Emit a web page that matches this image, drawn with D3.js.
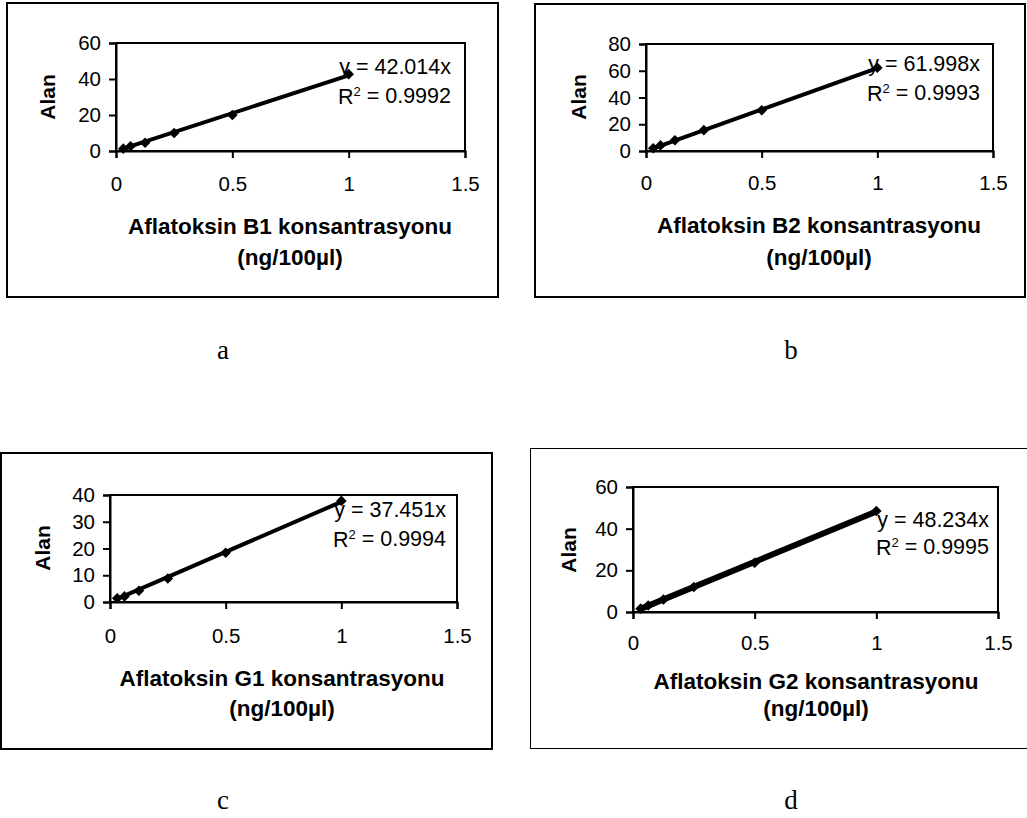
<!DOCTYPE html>
<html>
<head>
<meta charset="utf-8">
<script src="https://cdn.jsdelivr.net/npm/d3@7"></script>
<style>
  html, body { margin: 0; padding: 0; background: #fff; }
  svg { display: block; }
  text { font-family: "Liberation Sans", Arial, sans-serif; fill: #000; }
</style>
</head>
<body>
<svg id="chart" width="1027" height="818"></svg>
<script>
// Concentration levels (ng/100µl), shared by every standard curve
const concentrations = [0.03125, 0.0625, 0.125, 0.25, 0.5, 1];

// Peak areas measured for each aflatoxin
const areaB1 = [1.3, 2.6, 4.6, 10.0, 20.0, 42.7];
const areaB2 = [2.0, 4.2, 8.0, 15.6, 30.5, 62.2];
const areaG1 = [1.4, 2.1, 4.2, 8.8, 18.4, 37.8];
const areaG2 = [1.6, 3.1, 6.0, 12.0, 23.6, 48.5];

// Fitted slopes (trend line forced through the origin) and R² values
const slopes = [42.014, 61.998, 37.451, 48.234];
const rSquared = ["0.9992", "0.9993", "0.9994", "0.9995"];

// Axis settings
const xTicks = [0, 0.5, 1, 1.5];
const yMaxima = [60, 80, 40, 60];
const yTickSteps = [20, 20, 10, 20];
const toxinNames = ["B1", "B2", "G1", "G2"];
const panelLetters = ["a", "b", "c", "d"];

const svg = d3.select("#chart");

const layouts = [
  { box: [7, 3, 498, 297], boxW: 2, plot: [116, 43, 465, 151], tickLblY: 184,
    title1: 226, title2: 257, titleX: 290, alanX: 48, alanY: 97,
    eqRight: 451, eq1: 66, eq2: 96, lineW: 4, letter: [223, 350] },
  { box: [535, 4, 1025, 297], boxW: 2, plot: [646, 44, 993, 151], tickLblY: 183,
    title1: 225, title2: 257, titleX: 819, alanX: 579, alanY: 97,
    eqRight: 980, eq1: 63, eq2: 93, lineW: 4, letter: [791, 350] },
  { box: [1, 453, 492, 749], boxW: 2, plot: [110, 495, 457, 602], tickLblY: 636,
    title1: 678, title2: 708, titleX: 282, alanX: 43, alanY: 548,
    eqRight: 446, eq1: 509, eq2: 539, lineW: 4, letter: [223, 800] },
  { box: [530.5, 448.5, 1030, 748.5], boxW: 1, plot: [633, 487, 998, 612], tickLblY: 643,
    title1: 681, title2: 708, titleX: 816, alanX: 569, alanY: 550,
    eqRight: 989, eq1: 519, eq2: 547, lineW: 6, letter: [791, 800] }
];

const areas = [areaB1, areaB2, areaG1, areaG2];
const sans = "Liberation Sans, Arial, sans-serif";

layouts.forEach((L, i) => {
  const g = svg.append("g");
  const [bx0, by0, bx1, by1] = L.box;
  g.append("rect")
    .attr("x", bx0).attr("y", by0)
    .attr("width", bx1 - bx0).attr("height", by1 - by0)
    .attr("fill", "none").attr("stroke", "#000").attr("stroke-width", L.boxW);

  const [px0, py0, px1, py1] = L.plot;
  const x = d3.scaleLinear().domain([0, 1.5]).range([px0, px1]);
  const y = d3.scaleLinear().domain([0, yMaxima[i]]).range([py1, py0]);
  const yTicks = d3.range(0, yMaxima[i] + 0.001, yTickSteps[i]);

  // plot area frame
  g.append("rect")
    .attr("x", px0).attr("y", py0)
    .attr("width", px1 - px0).attr("height", py1 - py0)
    .attr("fill", "none").attr("stroke", "#000").attr("stroke-width", 2);

  // y axis
  const ya = g.append("g").attr("transform", `translate(${px0},0)`)
    .call(d3.axisLeft(y).tickValues(yTicks).tickSize(7).tickPadding(8)
      .tickFormat(d3.format("d")));
  ya.select(".domain").attr("stroke-width", 2);
  ya.selectAll(".tick line").attr("stroke-width", 2);
  ya.selectAll("text").attr("font-size", 20.5).attr("font-family", sans);

  // x axis
  const xa = g.append("g").attr("transform", `translate(0,${py1})`)
    .call(d3.axisBottom(x).tickValues(xTicks).tickSize(7)
      .tickFormat(d => String(d)));
  xa.select(".domain").attr("stroke-width", 2);
  xa.selectAll(".tick line").attr("stroke-width", 2);
  xa.selectAll("text").attr("font-size", 20.5).attr("font-family", sans)
    .attr("y", L.tickLblY - py1).attr("dy", "0.35em");

  // trend line through the origin, over the measured range
  const xs = d3.extent(concentrations);
  g.append("path")
    .datum(xs)
    .attr("d", d3.line().x(d => x(d)).y(d => y(slopes[i] * d)))
    .attr("stroke", "#000").attr("stroke-width", L.lineW).attr("fill", "none");

  // data markers
  const diamond = d3.symbol().type(d3.symbolSquare).size(56);
  g.selectAll(".pt").data(concentrations.map((c, k) => [c, areas[i][k]]))
    .join("path")
    .attr("transform", d => `translate(${x(d[0])},${y(d[1])}) rotate(45)`)
    .attr("d", diamond).attr("fill", "#000");

  // equation and R²
  g.append("text").attr("x", L.eqRight).attr("y", L.eq1).attr("dy", "0.35em")
    .attr("text-anchor", "end").attr("font-size", 21.5)
    .text(`y = ${slopes[i]}x`);
  const r = g.append("text").attr("x", L.eqRight).attr("y", L.eq2).attr("dy", "0.35em")
    .attr("text-anchor", "end").attr("font-size", 21.5);
  r.append("tspan").text("R");
  r.append("tspan").attr("font-size", 13).attr("dy", "-0.6em").text("2");
  r.append("tspan").attr("dy", "0.36em").text(` = ${rSquared[i]}`);

  // axis titles
  g.append("text").attr("x", L.titleX).attr("y", L.title1).attr("dy", "0.35em")
    .attr("text-anchor", "middle").attr("font-size", 22.5).attr("font-weight", "bold")
    .text(`Aflatoksin ${toxinNames[i]} konsantrasyonu`);
  g.append("text").attr("x", L.titleX).attr("y", L.title2).attr("dy", "0.35em")
    .attr("text-anchor", "middle").attr("font-size", 22.5).attr("font-weight", "bold")
    .text("(ng/100µl)");
  g.append("text")
    .attr("transform", `translate(${L.alanX},${L.alanY}) rotate(-90)`)
    .attr("dy", "0.35em").attr("text-anchor", "middle")
    .attr("font-size", 21).attr("font-weight", "bold").text("Alan");

  // panel letter
  svg.append("text").attr("x", L.letter[0]).attr("y", L.letter[1]).attr("dy", "0.35em")
    .attr("text-anchor", "middle").attr("font-size", 27)
    .style("font-family", "Liberation Serif, Times New Roman, serif")
    .text(panelLetters[i]);
});
</script>
</body>
</html>
